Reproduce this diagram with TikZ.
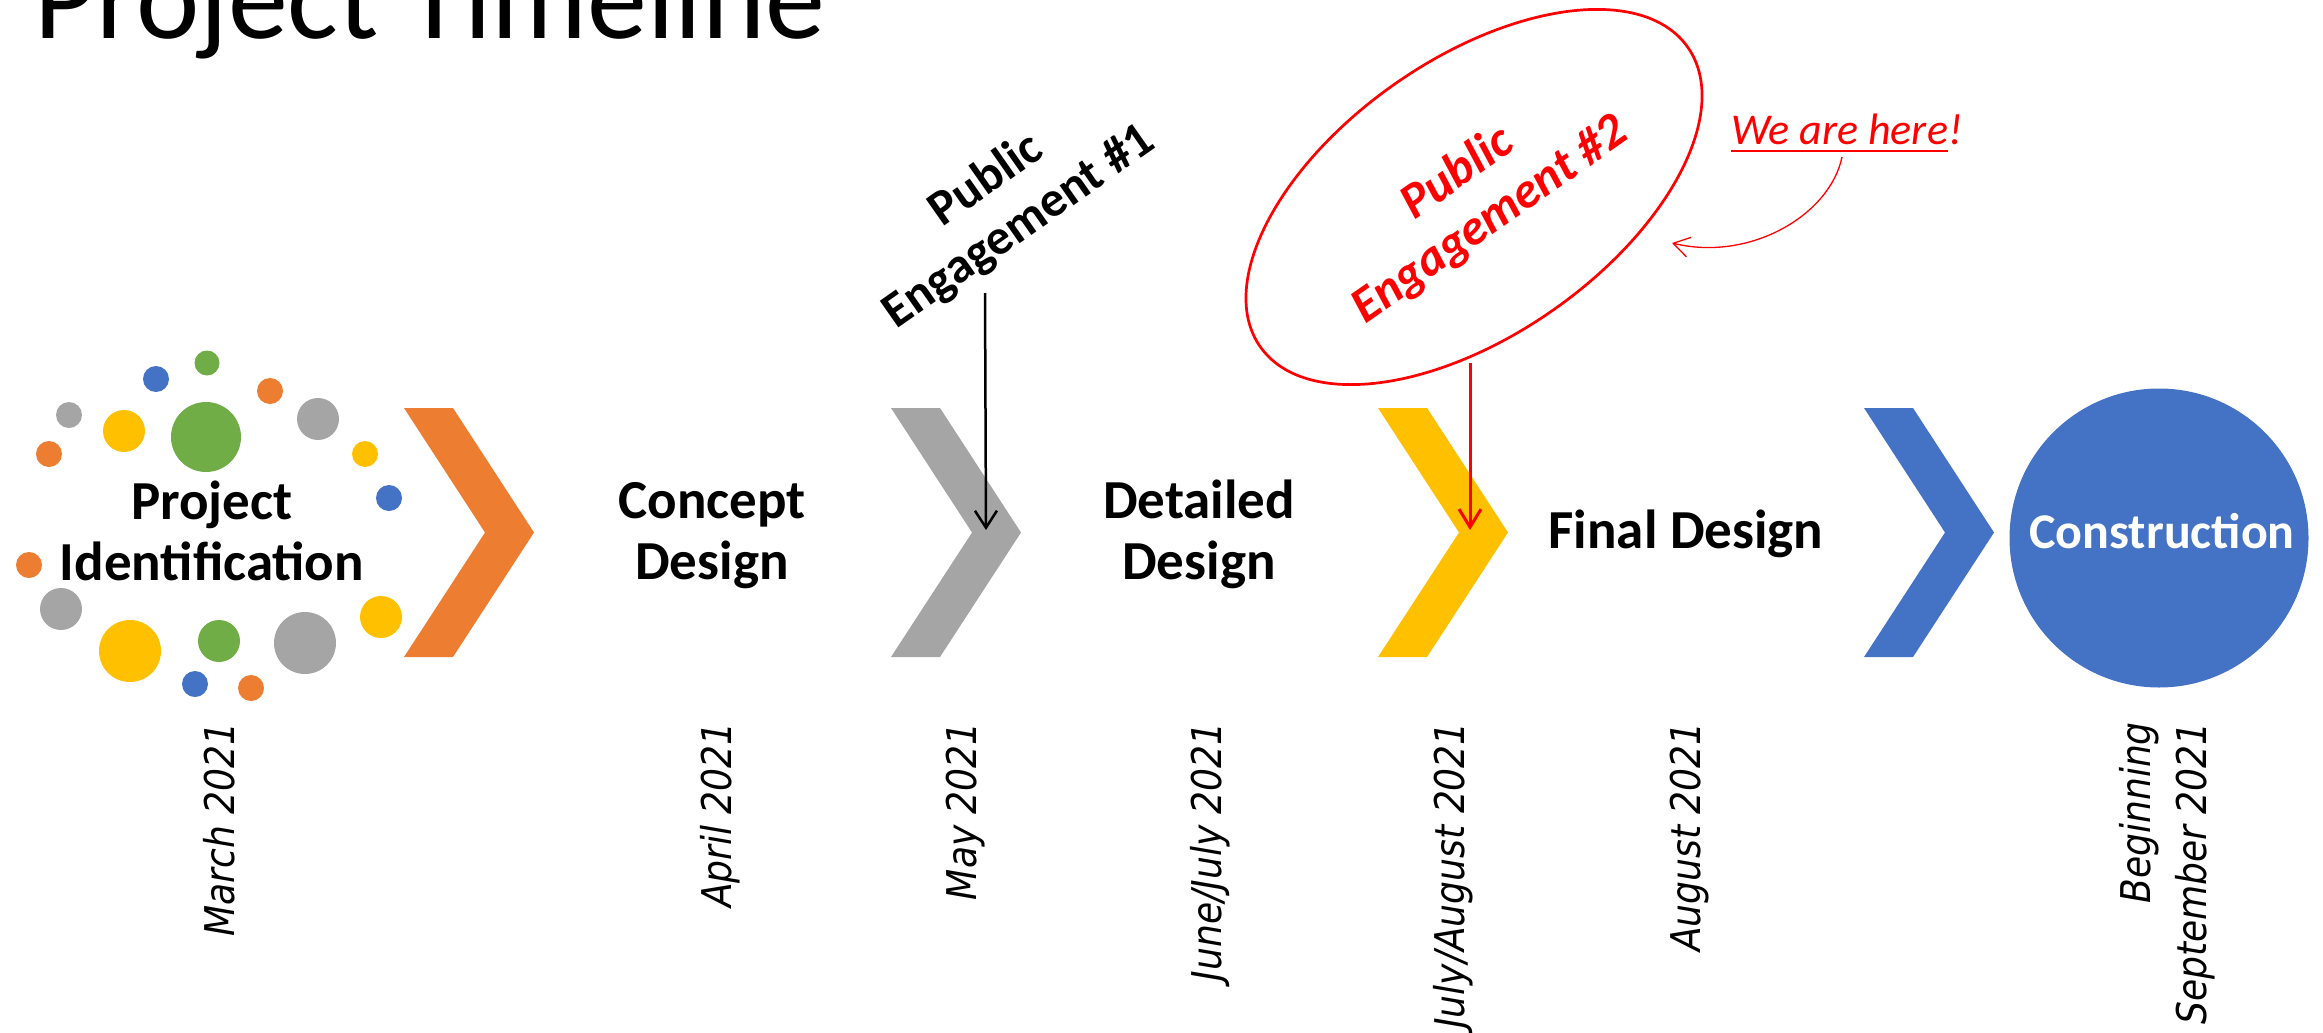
\documentclass[tikz,border=0pt]{standalone}
\usepackage{fontspec}
\setmainfont{Carlito}
\newfontfamily\datefont{DejaVu Sans}
\usetikzlibrary{arrows.meta,shapes.geometric,positioning}
\definecolor{orangeC}{HTML}{ED7D31}
\definecolor{grayC}{HTML}{A5A5A5}
\definecolor{yellowC}{HTML}{FFC000}
\definecolor{blueC}{HTML}{4472C4}
\definecolor{greenC}{HTML}{70AD47}
\newcommand{\stagechevron}[2]{%
  \fill[#2] (#1,408) -- ++(49,0) -- ++(81,124.5) -- ++(-81,124.5)
    -- ++(-49,0) -- ++(81,-124.5) -- cycle;
}

\begin{document}
\begin{tikzpicture}[x=1pt,y=-1pt,
      every node/.style={inner sep=0pt},
      stage/.style={align=center,font=\bfseries\fontsize{55}{61}\selectfont},
      engage/.style={align=center,rotate=35,font=\bfseries\fontsize{50}{57}\selectfont},
      date/.style={rotate=90,xscale=0.88,anchor=base east,
        font=\datefont\itshape\fontsize{41}{56}\selectfont},
      here/.style={text=red,anchor=base west,font=\itshape\fontsize{44}{50}\selectfont}
    ]
  \useasboundingbox (0,0) rectangle (2323,1033);
  \node[anchor=base west,font=\fontsize{120}{122}\selectfont] (title) at (34,39) {Project Timeline};

  \foreach \x/\y/\r/\c in {207/363/12.5/greenC, 156/379/13/blueC, 270/391/13/orangeC,
      69/415/13/grayC, 124/431/21/yellowC, 206/437/35/greenC, 318/419/21/grayC,
      49/454/13/orangeC, 365/454/13/yellowC, 389/498/13/blueC, 29/565/13/orangeC,
      61/609/21/grayC, 130/651/31/yellowC, 219/641/21/greenC, 305/643/31/grayC,
      381/617/21/yellowC, 195/684/13/blueC, 251/688/13/orangeC}
    \fill[\c] (\x,\y) circle (\r);

  \stagechevron{404}{orangeC}
  \stagechevron{891}{grayC}
  \stagechevron{1378}{yellowC}
  \stagechevron{1864}{blueC}

  \node[stage] (ident) at (212,531) {Project\\Identification};
  \node[stage] (concept) at (712,536) {Concept\\Design};
  \node[stage] (detail) at (1199,534) {Detailed\\Design};
  \node[stage,anchor=base] (final) at (1686,548) {Final Design};
  \node[circle,fill=blueC,minimum size=299] (constr) at (2159,538) {};
  \node[stage,anchor=base,text=white,font=\bfseries\fontsize{50}{56}\selectfont] (constrtext) at (2162,548) {Construction};

  \node[engage] (pe1) at (1003,204) {Public\\Engagement \#1};
  \coordinate (pe1 top) at (985,293);
  \coordinate (pe1 tip) at (986,530);
  \draw[line width=2.5,-{Straight Barb[length=17pt,width=22pt]}] (pe1 top) -- (pe1 tip);

  \node[engage,ellipse,draw=red,line width=2.7,text=red,minimum width=522,minimum height=276,
    font=\bfseries\itshape\fontsize{50}{57}\selectfont] (pe2) at (1474,197) {Public\\Engagement \#2};
  \coordinate (pe2 foot) at (1470,363);
  \coordinate (pe2 tip) at (1470,530);
  \draw[red,line width=3,-{Straight Barb[length=18pt,width=22pt]}] (pe2 foot) -- (pe2 tip);

  \node[here] (here) at (1731,144) {We are here};
  \node[here] (bang) at (here.base east) {!};
  \draw[red,line width=2.7] ([yshift=-7pt]here.base west) -- ([yshift=-7pt]here.base east);
  \coordinate (here tail) at (1842,157);
  \coordinate (here tip) at (1672,243);
  \draw[red,line width=1.3,-{Straight Barb[length=16pt,width=20pt]}] (here tail)
    .. controls (1830,215) and (1750,262) .. (here tip);

  \node[date] (d1) at (234,722) {March 2021};
  \node[date] (d2) at (731,722) {April 2021};
  \node[date] (d3) at (976,722) {May 2021};
  \node[date] (d4) at (1221,722) {June/July 2021};
  \node[date] (d5) at (1464,722) {July/August 2021};
  \node[date] (d6) at (1700,722) {August 2021};
  \node[date,align=right,anchor=north east] (d7) at (2119,722) {Beginning\\September 2021};
\end{tikzpicture}
\end{document}
